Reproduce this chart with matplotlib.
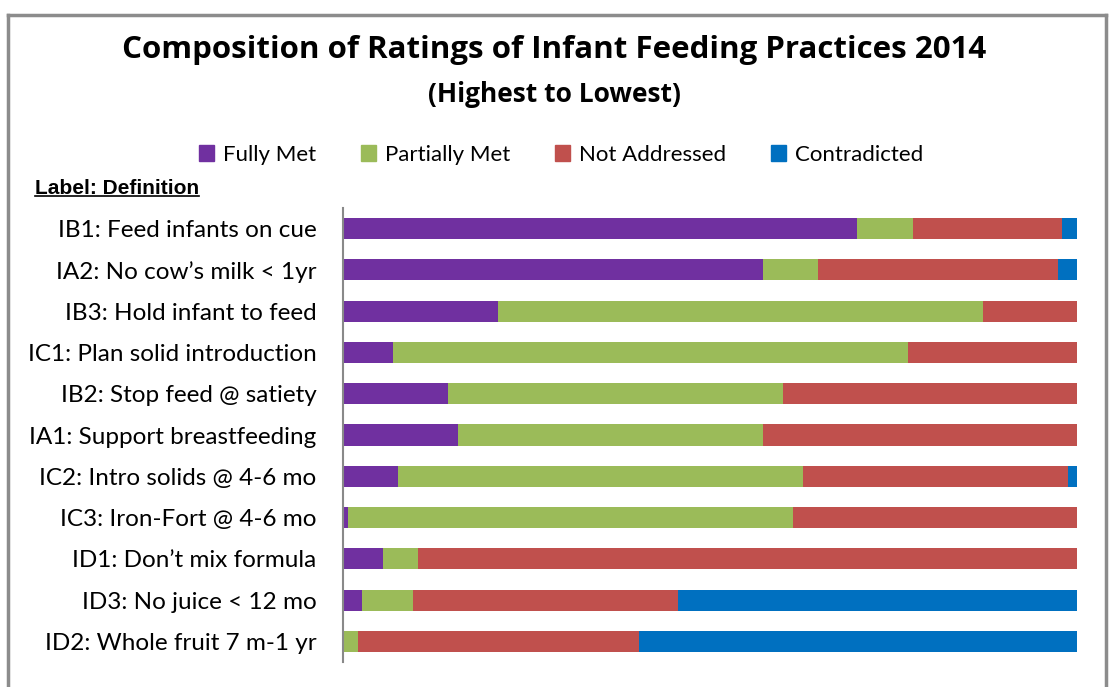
import matplotlib.pyplot as plt
import numpy as np
from matplotlib.lines import Line2D
from matplotlib.patches import Patch

labels = ["IB1: Feed infants on cue", "IA2: No cow\u2019s milk < 1yr", "IB3: Hold infant to feed",
          "IC1: Plan solid introduction", "IB2: Stop feed @ satiety", "IA1: Support breastfeeding",
          "IC2: Intro solids @ 4-6 mo", "IC3: Iron-Fort @ 4-6 mo", "ID1: Don\u2019t mix formula",
          "ID3: No juice < 12 mo", "ID2: Whole fruit 7 m-1 yr"]
fully_met = [70.0, 57.2, 21.1, 6.8, 14.3, 15.7, 7.5, 0.7, 5.4, 2.6, 0.0]
partially_met = [7.6, 7.5, 66.1, 70.2, 45.6, 41.5, 55.2, 60.6, 4.8, 6.9, 2.0]
not_addressed = [20.4, 32.7, 12.8, 23.0, 40.1, 42.8, 36.1, 38.7, 89.8, 36.1, 38.3]
contradicted = [2.0, 2.6, 0.0, 0.0, 0.0, 0.0, 1.2, 0.0, 0.0, 54.4, 59.7]

series = ["Fully Met", "Partially Met", "Not Addressed", "Contradicted"]
colors = ["#7030A0", "#9BBB59", "#C0504D", "#0070C0"]

font = "Lato"
fig = plt.figure(figsize=(11.09, 6.87), dpi=100)
ax = fig.add_axes([343 / 1109, 1 - 662 / 687, 734 / 1109, 454 / 687])

y = np.arange(len(labels))
left = np.zeros(len(labels))
for vals, col in zip([fully_met, partially_met, not_addressed, contradicted], colors):
    ax.barh(y, vals, left=left, height=0.51, color=col, linewidth=0)
    left += np.array(vals)

ax.set_xlim(0, 100)
ax.set_ylim(len(labels) - 0.5, -0.5)
ax.set_yticks(y)
ax.set_yticklabels(labels, fontsize=17.5, family=font)
ax.tick_params(axis="y", length=0, pad=19)
ax.set_xticks([])
for s in ["top", "right", "bottom"]:
    ax.spines[s].set_visible(False)
ax.spines["left"].set_color("#898989")
ax.spines["left"].set_linewidth(1.5)

fig.text(0.5, 1 - 50 / 687, "Composition of Ratings of Infant Feeding Practices 2014",
         ha="center", va="center", fontsize=22.5, fontweight="bold", family="Open Sans")
fig.text(0.5, 1 - 94 / 687, "(Highest to Lowest)", ha="center", va="center",
         fontsize=19, fontweight="bold", family="Open Sans")

handles = [Patch(color=c, label=s) for s, c in zip(series, colors)]
fig.legend(handles=handles, loc="center", bbox_to_anchor=(561 / 1109, 1 - 155 / 687), ncol=4,
           frameon=False, prop={"family": font, "size": 16}, handlelength=0.7, handleheight=0.7,
           handletextpad=0.4, columnspacing=2.0)

hdr = fig.text(35 / 1109, 1 - 188 / 687, "Label: Definition", ha="left", va="center",
               fontsize=15, fontweight="bold", family="Liberation Sans")
fig.canvas.draw()
bb = hdr.get_window_extent().transformed(fig.transFigure.inverted())
fig.add_artist(Line2D([bb.x0, bb.x1], [bb.y0 + 0.002, bb.y0 + 0.002], color="black",
                      linewidth=1.2, transform=fig.transFigure))

# chart frame
frame = dict(color="#8c8c8c", linewidth=2.5, transform=fig.transFigure)
fig.add_artist(Line2D([8 / 1109, 8 / 1109], [0, 1 - 15 / 687], **frame))
fig.add_artist(Line2D([8 / 1109, 1106 / 1109], [1 - 15 / 687, 1 - 15 / 687], **frame))
fig.add_artist(Line2D([1106 / 1109, 1106 / 1109], [0, 1 - 15 / 687], **frame))

fig.savefig("out.png", dpi=100)
